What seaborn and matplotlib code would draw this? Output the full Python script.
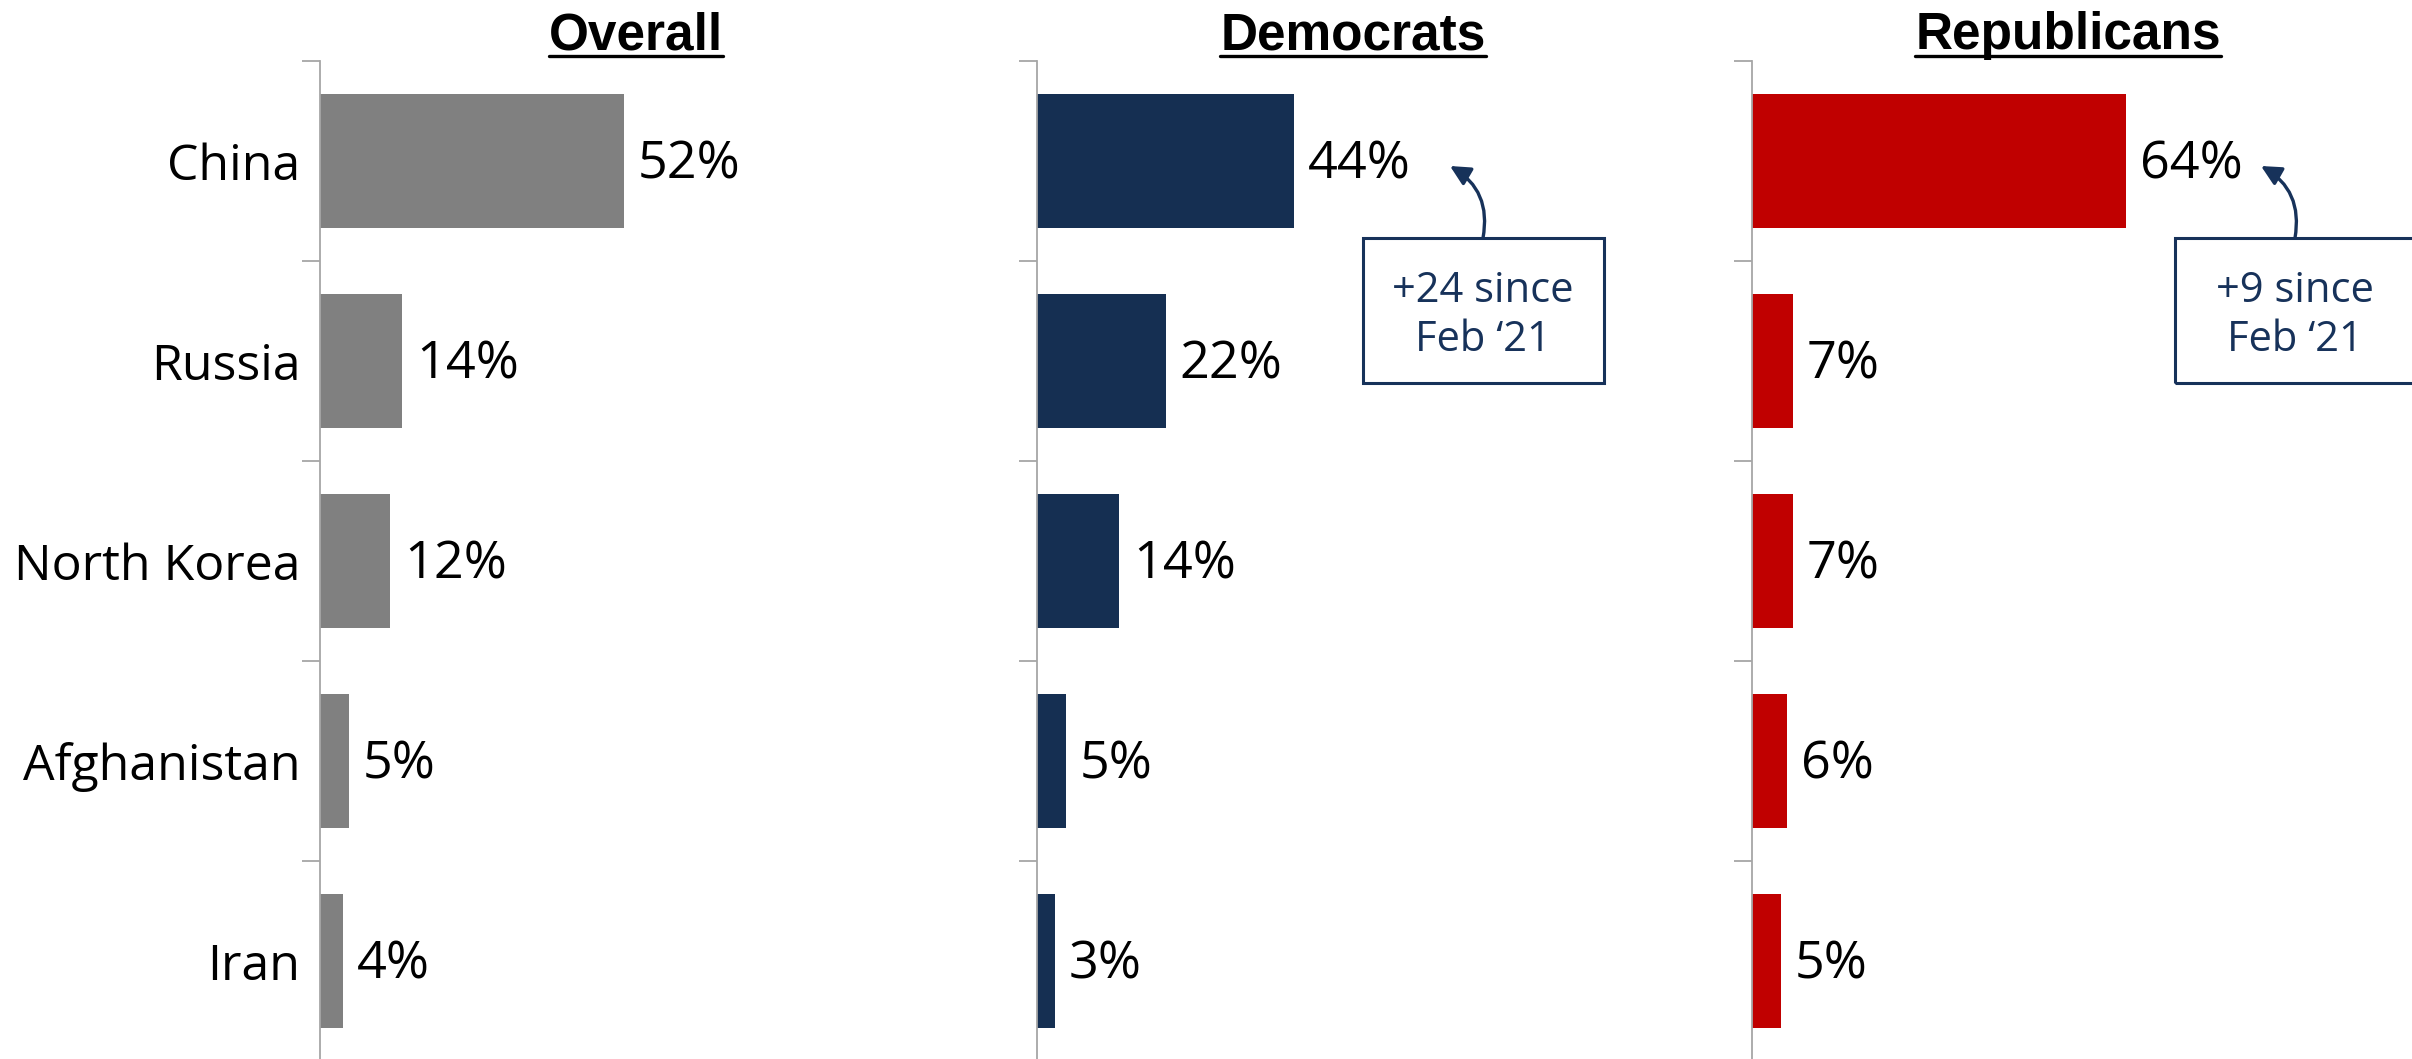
import matplotlib
matplotlib.use("Agg")
import matplotlib.pyplot as plt
from matplotlib.patches import Rectangle, FancyArrowPatch
from matplotlib.lines import Line2D
import seaborn as sns
import pandas as pd

# ---------------- data ----------------
countries = ["China", "Russia", "North Korea", "Afghanistan", "Iran"]
overall = [52, 14, 12, 5, 4]
democrats = [44, 22, 14, 5, 3]
republicans = [64, 7, 7, 6, 5]
panel_titles = ["Overall", "Democrats", "Republicans"]
panel_colors = ["#808080", "#152F52", "#C00000"]
notes = [None, "+24 since\nFeb \u201821", "+9 since\nFeb \u201821"]

# ---------------- style ----------------
sns.set_theme(style="white")
plt.rcParams["font.family"] = ["Open Sans", "DejaVu Sans"]

W, H = 2412, 1059
fig = plt.figure(figsize=(W / 100, H / 100), dpi=100)

PX_PER_PCT = 5.85
AX_W = 632
AX_TOP, AX_BOT = 61, 1061
lefts = [320, 1037, 1752]
NAVY = "#17325A"
SPINE = "#A6A6A6"

# annotation layout (pixels): box x0, x1, arrow start x, arrow tip (x, y)
ann_layout = [None,
              dict(x0=1363, x1=1604, sx=1483, tx=1450, ty=166),
              dict(x0=2175, x1=2417, sx=2295, tx=2261, ty=166)]
BOX_Y0, BOX_Y1 = 238, 383

series = [overall, democrats, republicans]

fig.canvas.draw()
renderer = fig.canvas.get_renderer()

for i, (vals, title, col) in enumerate(zip(series, panel_titles, panel_colors)):
    l = lefts[i]
    ax = fig.add_axes([l / W, (H - AX_BOT) / H, AX_W / W, (AX_BOT - AX_TOP) / H])
    df = pd.DataFrame({"country": countries, "value": vals})
    sns.barplot(data=df, x="value", y="country", ax=ax, color=col,
                width=0.67, linewidth=0, saturation=1, orient="h")
    ax.set_xlim(0, AX_W / PX_PER_PCT)
    ax.set_ylim(len(countries) - 0.5, -0.5)
    ax.set_xlabel("")
    ax.set_ylabel("")
    ax.set_xticks([])
    for s in ["top", "right", "bottom"]:
        ax.spines[s].set_visible(False)
    ax.spines["left"].set_color(SPINE)
    ax.spines["left"].set_linewidth(1.3)
    ax.set_yticks(range(len(countries)))
    if i == 0:
        ax.set_yticklabels(countries, fontsize=36, color="black")
    else:
        ax.set_yticklabels([])
    ax.set_yticks([k - 0.5 for k in range(len(countries) + 1)], minor=True)
    ax.tick_params(axis="y", which="major", length=0, pad=14, left=True)
    ax.tick_params(axis="y", which="minor", length=13, width=1.3, color=SPINE, left=True)
    ax.patch.set_alpha(0)

    for k, v in enumerate(vals):
        ax.annotate(f"{v}%", xy=(v, k), xytext=(10, -3), textcoords="offset points",
                    ha="left", va="center", fontsize=37.5, color="black")

    # title with underline
    cx = (l + 316) / W
    t = fig.text(cx, 1 - 49 / H, title, ha="center", va="baseline",
                 fontsize=37, fontweight="bold", family=["Liberation Sans", "DejaVu Sans"],
                 color="black")
    bb = t.get_window_extent(renderer=renderer)
    uy = 1 - 56 / H
    fig.add_artist(Line2D([bb.x0 / W, bb.x1 / W], [uy, uy], transform=fig.transFigure,
                          color="black", lw=2.4))

    # annotation boxes
    lay = ann_layout[i]
    if lay is not None:
        fig.add_artist(Rectangle((lay["x0"] / W, 1 - BOX_Y1 / H),
                                 (lay["x1"] - lay["x0"]) / W, (BOX_Y1 - BOX_Y0) / H,
                                 transform=fig.transFigure, fill=False,
                                 edgecolor=NAVY, lw=2.2, clip_on=False))
        fig.text(lay["sx"] / W, 1 - ((BOX_Y0 + BOX_Y1) / 2 + 5) / H, notes[i],
                 ha="center", va="center", fontsize=30, color=NAVY, linespacing=1.2)
        arr = FancyArrowPatch((lay["sx"] / W, 1 - BOX_Y0 / H), (lay["tx"] / W, 1 - lay["ty"] / H),
                              transform=fig.transFigure, connectionstyle="arc3,rad=0.35",
                              arrowstyle="-|>", mutation_scale=30, lw=2.4, color=NAVY,
                              shrinkA=0, shrinkB=0)
        fig.add_artist(arr)

fig.savefig("out.png", dpi=100)
